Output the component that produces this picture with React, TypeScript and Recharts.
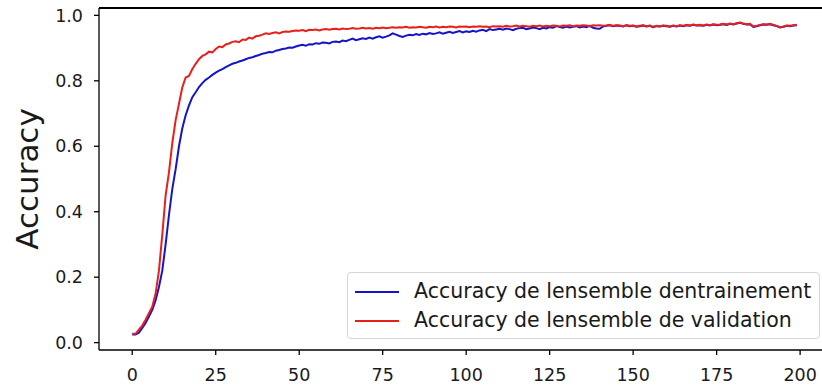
import React from 'react';
import { LineChart, Line, XAxis, YAxis, Legend } from 'recharts';

// validation accuracy per epoch (0..199)
const validationAcc = [
  0.027, 0.027, 0.04, 0.052, 0.07, 0.09, 0.11, 0.15, 0.22, 0.33,
  0.45, 0.52, 0.61, 0.68, 0.73, 0.78, 0.81, 0.815, 0.836, 0.852,
  0.866, 0.876, 0.881, 0.889, 0.887, 0.897, 0.905, 0.903, 0.911, 0.914,
  0.919, 0.921, 0.918, 0.926, 0.925, 0.932, 0.929, 0.936, 0.938, 0.941,
  0.945, 0.943, 0.946, 0.948, 0.945, 0.949, 0.951, 0.95, 0.952, 0.954,
  0.953, 0.955, 0.952, 0.956, 0.955, 0.957, 0.954, 0.957, 0.958, 0.956,
  0.958, 0.959, 0.957, 0.96, 0.958, 0.959, 0.961, 0.959, 0.96, 0.962,
  0.96, 0.961, 0.959, 0.962, 0.961, 0.963, 0.961, 0.962, 0.964, 0.962,
  0.964, 0.963, 0.965, 0.962, 0.964, 0.963, 0.965, 0.964, 0.962, 0.965,
  0.964, 0.966, 0.963, 0.965, 0.964, 0.966, 0.965, 0.963, 0.966, 0.965,
  0.966, 0.964, 0.966, 0.965, 0.967, 0.965, 0.966, 0.964, 0.967, 0.966,
  0.967, 0.965, 0.968, 0.966, 0.967, 0.969, 0.966, 0.968, 0.967, 0.965,
  0.968, 0.967, 0.969, 0.966, 0.968, 0.967, 0.969, 0.968, 0.966, 0.969,
  0.968, 0.97, 0.967, 0.969, 0.968, 0.97, 0.969, 0.967, 0.97, 0.969,
  0.97, 0.968, 0.969, 0.971, 0.968, 0.97, 0.969, 0.967, 0.97, 0.968,
  0.969, 0.966, 0.968, 0.97, 0.967, 0.969, 0.965, 0.968, 0.967, 0.969,
  0.968, 0.966, 0.969, 0.967, 0.97, 0.968, 0.971, 0.969, 0.972, 0.97,
  0.971, 0.969, 0.972, 0.97, 0.973, 0.971, 0.972, 0.974, 0.972, 0.975,
  0.973, 0.976, 0.978, 0.975, 0.973, 0.974, 0.966, 0.968, 0.971, 0.973,
  0.972, 0.974, 0.971, 0.968, 0.964, 0.966, 0.969, 0.968, 0.97, 0.971,
];

// training accuracy per epoch (0..199)
const trainingAcc = [
  0.025, 0.025, 0.03, 0.045, 0.06, 0.08, 0.1, 0.13, 0.17, 0.22,
  0.3, 0.39, 0.47, 0.53, 0.6, 0.655, 0.695, 0.725, 0.75, 0.765,
  0.781, 0.793, 0.803, 0.81, 0.818, 0.825, 0.831, 0.836, 0.842, 0.847,
  0.852, 0.855, 0.859, 0.862, 0.866, 0.87, 0.872, 0.876, 0.879, 0.883,
  0.885, 0.888, 0.887, 0.892, 0.894, 0.897, 0.899, 0.902, 0.901, 0.905,
  0.908, 0.91, 0.907, 0.912, 0.911, 0.915, 0.913, 0.917, 0.916, 0.914,
  0.919, 0.92, 0.918, 0.923, 0.921, 0.925, 0.929, 0.924, 0.927, 0.93,
  0.928, 0.932, 0.929, 0.933, 0.936, 0.932, 0.935, 0.939, 0.945, 0.941,
  0.937, 0.934, 0.938, 0.941, 0.939, 0.943, 0.94, 0.944, 0.942, 0.946,
  0.943, 0.945, 0.948, 0.944, 0.947, 0.95, 0.946, 0.949, 0.952, 0.948,
  0.951, 0.949, 0.953, 0.95, 0.954, 0.956, 0.952, 0.958, 0.955, 0.957,
  0.959, 0.956, 0.96, 0.958, 0.955, 0.959, 0.961, 0.962, 0.958, 0.96,
  0.963, 0.961, 0.958, 0.962, 0.96, 0.964, 0.962, 0.967, 0.964, 0.962,
  0.966, 0.963, 0.965, 0.967, 0.963, 0.966, 0.964, 0.968, 0.962, 0.96,
  0.959, 0.966, 0.968, 0.97, 0.967, 0.969, 0.968, 0.966, 0.97, 0.967,
  0.968, 0.965, 0.967, 0.969, 0.966, 0.968, 0.964, 0.967, 0.966, 0.968,
  0.967, 0.965, 0.968, 0.966, 0.969, 0.967, 0.97, 0.968, 0.971, 0.969,
  0.97, 0.968, 0.971, 0.969, 0.972, 0.97, 0.971, 0.973, 0.971, 0.974,
  0.972, 0.975, 0.977, 0.974, 0.972, 0.973, 0.965, 0.967, 0.97, 0.972,
  0.971, 0.973, 0.97, 0.967, 0.963, 0.965, 0.968, 0.967, 0.969, 0.97,
];

const xTicks = [0, 25, 50, 75, 100, 125, 150, 175, 200];
const yTicks = [0, 0.2, 0.4, 0.6, 0.8, 1.0];
const xDomain: [number, number] = [-9.95, 208.95];
const yDomain: [number, number] = [-0.0225, 1.0225];

const trainLabel = 'Accuracy de lensemble dentrainement';
const valLabel = 'Accuracy de lensemble de validation';

const TRAIN_COLOR = '#1414c8';
const VAL_COLOR = '#e8201c';
const FONT = '"DejaVu Sans", sans-serif';

const CHART_W = 840;
const CHART_H = 388;
const MARGIN = { top: 8, right: 10, left: 0, bottom: 0 };
const Y_AXIS_W = 99;

const chartData = trainingAcc.map((t, i) => ({
  epoch: i,
  train: t,
  val: validationAcc[i],
}));

function YLabel(props: any) {
  const { viewBox } = props;
  const x = viewBox.x + 27;
  const y = viewBox.y + viewBox.height / 2;
  return (
    <text
      x={x}
      y={y}
      textAnchor="middle"
      dominantBaseline="central"
      transform={`rotate(-90, ${x}, ${y})`}
      style={{ fontFamily: FONT, fontSize: 31, fill: '#1a1a1a' }}
    >
      Accuracy
    </text>
  );
}

function LegendBox() {
  const rows = [
    { label: trainLabel, color: TRAIN_COLOR },
    { label: valLabel, color: VAL_COLOR },
  ];
  return (
    <div
      style={{
        boxSizing: 'border-box',
        width: 473,
        height: 67,
        border: '1px solid #d6d6d6',
        borderRadius: 4,
        background: 'rgba(255,255,255,0.8)',
        padding: '4px 0 0 7px',
        fontFamily: FONT,
        fontSize: 20.5,
        color: '#1a1a1a',
      }}
    >
      {rows.map(r => (
        <div key={r.label} style={{ display: 'flex', alignItems: 'center', height: 29 }}>
          <svg width={44} height={4} style={{ marginRight: 15 }}>
            <line x1={0} y1={2} x2={44} y2={2} stroke={r.color} strokeWidth={2.2} />
          </svg>
          <span style={{ whiteSpace: 'nowrap', lineHeight: 1 }}>{r.label}</span>
        </div>
      ))}
    </div>
  );
}

export default function App() {
  const tickStyle = { fontFamily: FONT, fontSize: 17.5, fill: '#1a1a1a' };
  return (
    <div
      style={{
        position: 'fixed',
        left: 0,
        top: 0,
        width: 822,
        height: 388,
        overflow: 'hidden',
        background: '#fff',
      }}
    >
      <LineChart width={CHART_W} height={CHART_H} data={chartData} margin={MARGIN}>
        <XAxis
          dataKey="epoch"
          type="number"
          domain={xDomain}
          ticks={xTicks}
          allowDataOverflow
          height={38}
          tickSize={5}
          tickMargin={14}
          tick={tickStyle}
          axisLine={{ stroke: '#000', strokeWidth: 1.3 }}
          tickLine={{ stroke: '#000', strokeWidth: 1.3 }}
        />
        <YAxis
          type="number"
          domain={yDomain}
          ticks={yTicks}
          allowDataOverflow
          width={Y_AXIS_W}
          tickSize={5}
          tickMargin={11}
          tick={tickStyle}
          tickFormatter={(v: number) => v.toFixed(1)}
          axisLine={{ stroke: '#000', strokeWidth: 1.3 }}
          tickLine={{ stroke: '#000', strokeWidth: 1.3 }}
          label={<YLabel />}
        />
        <Legend
          layout="horizontal"
          verticalAlign="middle"
          align="center"
          content={() => <LegendBox />}
          wrapperStyle={{ left: 347, top: 272, width: 473, height: 67 }}
        />
        <Line
          type="linear"
          dataKey="train"
          stroke={TRAIN_COLOR}
          strokeWidth={2}
          dot={false}
          isAnimationActive={false}
        />
        <Line
          type="linear"
          dataKey="val"
          stroke={VAL_COLOR}
          strokeWidth={2}
          dot={false}
          isAnimationActive={false}
        />
      </LineChart>
      {/* top spine of the axes frame, along the upper edge of the plot area */}
      <div
        style={{
          position: 'absolute',
          left: MARGIN.left + Y_AXIS_W,
          top: MARGIN.top - 0.65,
          width: CHART_W - MARGIN.left - MARGIN.right - Y_AXIS_W,
          height: 1.3,
          background: '#000',
        }}
      />
    </div>
  );
}
